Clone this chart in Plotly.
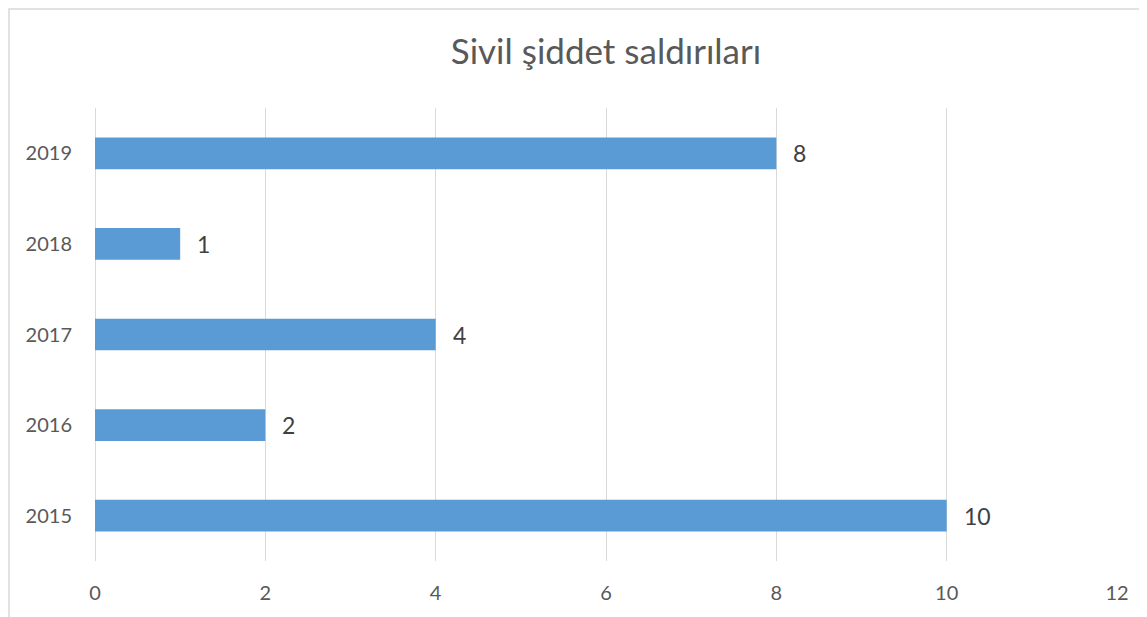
import plotly.graph_objects as go

years = ["2015", "2016", "2017", "2018", "2019"]
values = [10, 2, 4, 1, 8]
x_ticks = [0, 2, 4, 6, 8, 10, 12]
title_text = "Sivil şiddet saldırıları"

FONT = "Lato, 'Open Sans', sans-serif"

# page body has an 8px margin; figure sized to fit the window
W, H = 1139, 609
L, T = 87, 100
PW, PH = 1022, 453

fig = go.Figure()
fig.add_trace(go.Bar(
    y=years, x=values, orientation="h",
    marker=dict(color="#5b9bd5", line=dict(width=0)),
    width=0.35, hoverinfo="skip",
))

for i, xv in enumerate(values):
    fig.add_annotation(x=xv, y=i, xref="x", yref="y", text=str(xv),
                       showarrow=False, xanchor="left", xshift=15,
                       font=dict(family=FONT, size=23, color="#404040"))

fig.update_layout(
    width=W, height=H,
    margin=dict(l=L, r=W - L - PW, t=T, b=H - T - PH, autoexpand=False),
    paper_bgcolor="white", plot_bgcolor="white",
    showlegend=False,
    title=dict(text=title_text, x=0.5, xanchor="center", xref="paper",
               y=1 - 44 / H, yanchor="middle",
               font=dict(family=FONT, size=35, color="#595959")),
    xaxis=dict(range=[0, 12], tickvals=x_ticks, showgrid=True,
               gridcolor="#d9d9d9", gridwidth=1.3, zeroline=True,
               zerolinecolor="#d9d9d9", zerolinewidth=1.3,
               showline=False, ticks="", ticklabelstandoff=18,
               tickfont=dict(family=FONT, size=20, color="#595959"),
               fixedrange=True),
    yaxis=dict(type="category", categoryorder="array", categoryarray=years,
               range=[-0.5, 4.5], showgrid=False, zeroline=False,
               showline=False, ticks="", ticklabelstandoff=22,
               tickfont=dict(family=FONT, size=20, color="#595959"),
               fixedrange=True),
    shapes=[dict(type="rect", xref="paper", yref="paper",
                 x0=(1 - L) / PW, x1=1.2,
                 y0=-0.3, y1=(PH + T - 1) / PH,
                 line=dict(color="#d9d9d9", width=1.5),
                 fillcolor="rgba(0,0,0,0)", layer="below")],
)

fig.write_html("out.html")
